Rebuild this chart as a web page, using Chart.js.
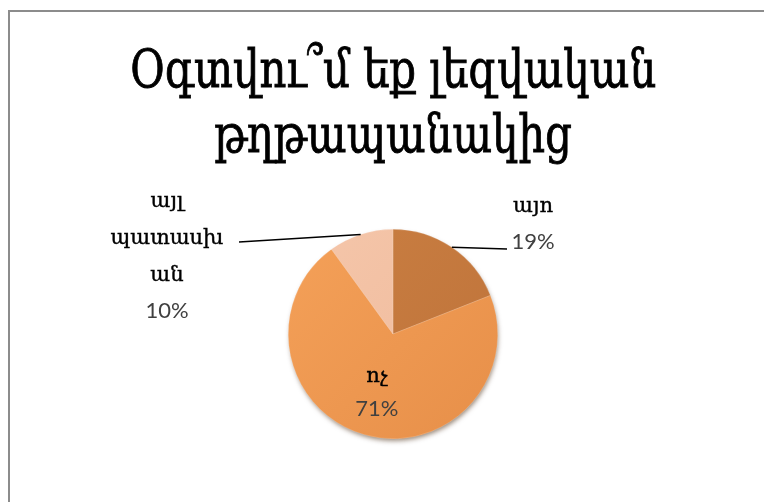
<!DOCTYPE html>
<html>
<head>
<meta charset="utf-8">
<script src="https://cdn.jsdelivr.net/npm/chart.js@4/dist/chart.umd.min.js"></script>
<style>
  html, body { margin: 0; padding: 0; background: #fff; overflow: hidden; }
  #wrap { position: relative; width: 764px; height: 502px; }
  #frame { position: absolute; left: 8px; top: 10px; width: 800px; height: 600px;
           border: 2px solid #8c8c8c; box-sizing: border-box; }
  canvas { position: absolute; left: 0; top: 0; }
</style>
</head>
<body>
<div id="wrap">
  <div id="frame"></div>
  <canvas id="c" width="764" height="502"></canvas>
</div>
<script>
// Survey answers and their shares (percent)
const categories = ['այո', 'ոչ', 'այլ պատասխան'];
const shares = [19, 71, 10];
const titleLines = ['Օգտվու՞մ եք լեզվական', 'թղթապանակից'];

const sliceColors = [
  ['#ca7f42', '#bd7139'],
  ['#f4a058', '#e68e48'],
  ['#f5c6aa', '#eeb899']
];

const serif = "'DejaVu Serif', 'Liberation Serif', serif";
const sans = "Lato, 'Open Sans', sans-serif";

// Break long words so a label fits a narrow column
function wrapLabel(text, maxChars) {
  const out = [];
  text.split(' ').forEach(w => {
    const chars = Array.from(w);
    for (let i = 0; i < chars.length; i += maxChars) {
      out.push(chars.slice(i, i + maxChars).join(''));
    }
  });
  return out;
}

function sliceFill(ctx) {
  const chart = ctx.chart;
  const area = chart.chartArea;
  if (!area) return sliceColors[ctx.dataIndex][0];
  const g = chart.ctx.createLinearGradient(area.left + 280, area.top, area.left + 500, area.bottom);
  g.addColorStop(0, sliceColors[ctx.dataIndex][0]);
  g.addColorStop(1, sliceColors[ctx.dataIndex][1]);
  return g;
}

// Two-line heading, narrowed slightly so the long first line keeps its width
const heading = {
  id: 'heading',
  afterDraw(chart) {
    const c = chart.ctx;
    const cx = 393;
    c.save();
    c.font = '52px ' + serif;
    c.fillStyle = '#000';
    c.strokeStyle = '#000';
    c.lineWidth = 0.9;
    c.textAlign = 'center';
    c.textBaseline = 'alphabetic';
    const w = c.measureText(titleLines[0]).width;
    const sx = Math.min(1, 526 / w);
    c.translate(cx, 0);
    c.scale(sx, 1);
    [[titleLines[0], 87], [titleLines[1], 152]].forEach(([t, y]) => {
      c.fillText(t, 0, y);
      c.strokeText(t, 0, y);
    });
    c.restore();
  }
};

// Soft drop shadow beneath the pie
const pieShadow = {
  id: 'pieShadow',
  beforeDatasetsDraw(chart) {
    const arc = chart.getDatasetMeta(0).data[0];
    if (!arc) return;
    const c = chart.ctx;
    c.save();
    c.shadowColor = 'rgba(60,30,0,0.55)';
    c.shadowBlur = 5;
    c.shadowOffsetX = 1;
    c.shadowOffsetY = 3;
    c.fillStyle = '#e8904a';
    c.beginPath();
    c.arc(arc.x, arc.y, arc.outerRadius - 1, 0, Math.PI * 2);
    c.fill();
    c.restore();
  }
};

// Category + percentage labels, with leader lines for the outside ones
const sliceLabels = {
  id: 'sliceLabels',
  afterDatasetsDraw(chart) {
    const c = chart.ctx;
    const arcs = chart.getDatasetMeta(0).data;
    const total = shares.reduce((a, b) => a + b, 0);
    // where each text block sits and where its leader line ends
    const place = [
      { dx: 140, dy: -127, lineEnd: [507, 249], lineGap: 37 },
      { inside: true, r: 0.55 },
      { dx: -226, dy: -132, lineEnd: [239, 242], lineGap: 37 }
    ];
    arcs.forEach((arc, i) => {
      const mid = (arc.startAngle + arc.endAngle) / 2;
      const pct = Math.round(shares[i] / total * 100) + '%';
      const lines = wrapLabel(categories[i], 6);
      const p = place[i];
      c.save();
      c.textAlign = 'center';
      c.textBaseline = 'middle';
      let x, y;
      const catText = (t, tx, ty) => {
        c.font = '21px ' + serif;
        c.fillStyle = '#000';
        c.strokeStyle = '#000';
        c.lineWidth = 0.4;
        c.fillText(t, tx, ty);
        c.strokeText(t, tx, ty);
      };
      if (p.inside) {
        x = arc.x + Math.cos(mid) * arc.outerRadius * p.r;
        y = arc.y + Math.sin(mid) * arc.outerRadius * p.r;
        catText(lines[0], x, y - 13);
        c.font = '22px ' + sans;
        c.fillStyle = '#404040';
        c.fillText(pct, x, y + 20);
      } else {
        const ax = arc.x + Math.cos(mid) * arc.outerRadius;
        const ay = arc.y + Math.sin(mid) * arc.outerRadius;
        c.strokeStyle = '#000';
        c.lineWidth = 1.5;
        c.beginPath();
        c.moveTo(ax, ay);
        c.lineTo(p.lineEnd[0], p.lineEnd[1]);
        c.stroke();
        x = arc.x + p.dx;
        y = arc.y + p.dy;
        lines.forEach((ln, k) => catText(ln, x, y + k * p.lineGap));
        c.font = '22px ' + sans;
        c.fillStyle = '#404040';
        c.fillText(pct, x, y + lines.length * p.lineGap - 2);
      }
      c.restore();
    });
  }
};

new Chart(document.getElementById('c'), {
  type: 'pie',
  data: {
    labels: categories,
    datasets: [{
      data: shares,
      backgroundColor: sliceFill,
      borderColor: 'rgba(255,255,255,0.35)',
      borderWidth: 0.5
    }]
  },
  options: {
    responsive: false,
    animation: false,
    events: [],
    layout: { padding: { left: 22, right: 0, top: 229, bottom: 63 } },
    plugins: {
      legend: { display: false },
      tooltip: { enabled: false },
      title: { display: false }
    }
  },
  plugins: [pieShadow, sliceLabels, heading]
});
</script>
</body>
</html>
